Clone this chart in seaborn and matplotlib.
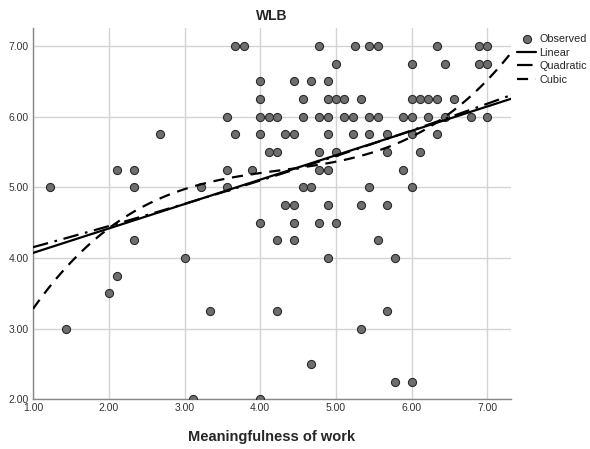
import numpy as np
import pandas as pd
import matplotlib
matplotlib.use("Agg")
import matplotlib.pyplot as plt
import seaborn as sns

# observed points, grouped by WLB value (y) -> meaningfulness values (x)
wlb_levels = [7.0, 6.75, 6.5, 6.25, 6.0, 5.75, 5.5, 5.25, 5.0, 4.75,
              4.5, 4.25, 4.0, 3.75, 3.5, 3.25, 3.0, 2.5, 2.25, 2.0]
meaning_at_level = [
    [3.67, 3.78, 4.78, 5.25, 5.44, 5.56, 6.33, 6.89, 7.0],
    [5.0, 6.0, 6.44, 6.89, 7.0],
    [4.0, 4.44, 4.67, 4.89],
    [4.0, 4.56, 4.89, 5.0, 5.11, 5.33, 6.0, 6.11, 6.22, 6.33, 6.56],
    [3.56, 4.0, 4.11, 4.22, 4.56, 4.78, 4.89, 5.11, 5.22, 5.44, 5.56,
     5.89, 6.0, 6.22, 6.44, 6.78, 7.0],
    [2.67, 3.67, 4.0, 4.33, 4.44, 4.89, 5.22, 5.44, 5.67, 6.0, 6.33],
    [4.11, 4.22, 4.78, 5.0, 5.67, 6.11],
    [2.11, 2.33, 3.56, 3.89, 4.78, 4.89, 5.89],
    [1.22, 2.33, 3.22, 3.56, 4.56, 4.67, 5.44, 6.0],
    [4.33, 4.44, 4.89, 5.33, 5.67],
    [4.0, 4.44, 4.78, 5.0],
    [2.33, 4.22, 4.44, 5.56],
    [3.0, 4.89, 5.78],
    [2.11],
    [2.0],
    [3.33, 4.22, 5.67],
    [1.44, 5.33],
    [4.67],
    [5.78, 6.0],
    [3.11, 4.0],
]
x_ticks = [1, 2, 3, 4, 5, 6, 7]
y_ticks = [2, 3, 4, 5, 6, 7]

rows = [(x, y) for y, xs in zip(wlb_levels, meaning_at_level) for x in xs]
df = pd.DataFrame(rows, columns=["meaning", "wlb"])

sns.set_style("white")
plt.rcParams["font.family"] = ["Liberation Sans", "DejaVu Sans"]

fig = plt.figure(figsize=(5.9, 4.49), dpi=100)
ax = fig.add_axes([0.056, 0.111, 0.81, 0.827])
ax.set_xlim(1, 7.31)
ax.set_ylim(2, 7.26)

sns.scatterplot(data=df, x="meaning", y="wlb", ax=ax, s=34, color="#6e6e6e",
                edgecolor="#2a2a2a", linewidth=0.8, label="Observed", zorder=3)

fits = [(1, "Linear", "-"), (2, "Quadratic", (0, (7, 3, 1.2, 3))),
        (3, "Cubic", (0, (5, 3.5)))]
for order, name, ls in fits:
    sns.regplot(data=df, x="meaning", y="wlb", ax=ax, order=order, ci=None,
                scatter=False, truncate=False, label=name,
                line_kws=dict(color="black", lw=1.6, ls=ls, zorder=4))

ax.set_xlim(1, 7.31)
ax.set_ylim(2, 7.26)
ax.set_xticks(x_ticks)
ax.set_yticks(y_ticks)
ax.xaxis.set_major_formatter(matplotlib.ticker.FormatStrFormatter("%.2f"))
ax.yaxis.set_major_formatter(matplotlib.ticker.FormatStrFormatter("%.2f"))
ax.tick_params(length=0, labelsize=7.5, labelcolor="#333333", pad=3)
ax.grid(True, color="#d4d4d4", lw=1.0)
ax.set_axisbelow(True)
for side in ["top", "right"]:
    ax.spines[side].set_visible(False)
for side in ["left", "bottom"]:
    ax.spines[side].set_color("#888888")
    ax.spines[side].set_linewidth(1.0)

ax.set_title("WLB", fontsize=10, fontweight="bold", pad=6)
ax.set_xlabel("Meaningfulness of work", fontsize=10.5, fontweight="bold", labelpad=12)
ax.set_ylabel("")

ax.legend(loc="upper left", bbox_to_anchor=(1.0, 1.0), frameon=False,
          fontsize=7.8, handlelength=1.7, handletextpad=0.3, labelspacing=0.32,
          borderaxespad=0.2)

fig.savefig("out.png", dpi=100)
